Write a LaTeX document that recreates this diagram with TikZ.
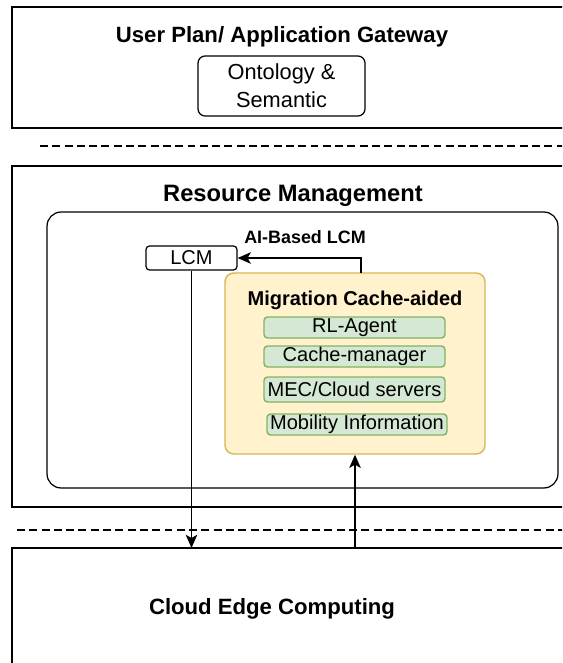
\documentclass[tikz,border=0pt]{standalone}
\usepackage{fontspec}
\setmainfont{Liberation Sans}
\usepackage{tikz}
\usetikzlibrary{arrows.meta,calc,positioning}

\definecolor{jaune}{HTML}{FFF2CC}
\definecolor{jauneb}{HTML}{D6B656}
\definecolor{vert}{HTML}{D5E8D4}
\definecolor{vertb}{HTML}{82B366}

\tikzset{
  couche/.style={draw,line width=0.9pt,minimum width=11.76cm,inner sep=0pt},
  titre/.style={font=\bfseries\fontsize{12.6}{14}\selectfont},
  boite/.style={draw,rounded corners=4pt,line width=0.7pt,inner sep=0pt},
  bloc/.style={draw=vertb,fill=vert,rounded corners=2pt,line width=0.8pt,
    minimum width=3.62cm,minimum height=0.42cm,inner sep=0pt,
    font=\fontsize{11.4}{12}\selectfont},
  fleche/.style={-{Stealth[length=7.5pt,width=6.5pt,inset=1.8pt]},line width=0.95pt}
}

\begin{document}
\begin{tikzpicture}[x=0.02cm,y=-0.02cm]
\useasboundingbox (0,0) rectangle (562,663);
\clip (0,0) rectangle (562,663);
			% Couches
\node[couche,minimum height=2.42cm] (userplan) at (306,67.5) {};
\node[titre] (userplantxt) at (282,37) {User Plan/ Application Gateway};
\node[boite,minimum width=3.34cm,minimum height=1.2cm,align=center,
  font=\fontsize{12.4}{16}\selectfont] (onto) at (281.5,86) {Ontology \&\\Semantic};
\draw[dashed,line width=0.6pt,dash pattern=on 4.5pt off 2.5pt] (40,146) -- (570,146);

\node[couche,minimum height=6.82cm] (resmgmt) at (306,336.5) {};
\node[titre,font=\bfseries\fontsize{13.5}{15}\selectfont] (resmgmttxt) at (293,196) {Resource Management};
\node[boite,rounded corners=8pt,minimum width=10.22cm,minimum height=5.52cm] (aibox) at (302.5,350) {};

\node[couche,minimum height=3cm] (cloudedge) at (306,623) {};
\node[titre] (cloudedgetxt) at (272,609) {Cloud Edge Computing};
\draw[dashed,line width=0.6pt,dash pattern=on 4.5pt off 2.5pt] (17,530) -- (570,530);

			% LCM
\node[boite,rounded corners=2pt,minimum width=1.82cm,minimum height=0.48cm,
  font=\fontsize{11.4}{12}\selectfont] (lcm) at (191.5,258) {\raisebox{-2pt}{LCM}};
\node[font=\bfseries\fontsize{10.2}{11}\selectfont] (ailcm) at (305,237) {AI-Based LCM};

			% Migration
\node[draw=jauneb,fill=jaune,rounded corners=5pt,line width=0.8pt,
  minimum width=5.2cm,minimum height=3.62cm] (migr) at (355,363.5) {};
\node[font=\bfseries\fontsize{11.4}{12}\selectfont] (migrtxt) at (355,300) {Migration Cache-aided};
\node[bloc] (rl) at (354.5,327.5) {RL-Agent};
\node[bloc] (cache) at (354.5,356.5) {Cache-manager};
\node[bloc,minimum height=0.5cm] (mec) at (354.5,389.5) {MEC/Cloud servers};
\node[bloc,minimum width=3.6cm] (mob) at (357,424.5) {Mobility Information};

			% Flèches
\coordinate (edgetop) at (12,548);
\draw[fleche] (361,273) -- (361,258) -- (lcm.east);
\draw[fleche] (lcm.south) -- (lcm.south |- edgetop);
\draw[fleche] (migr.south |- edgetop) -- (migr.south);
\end{tikzpicture}
\end{document}
